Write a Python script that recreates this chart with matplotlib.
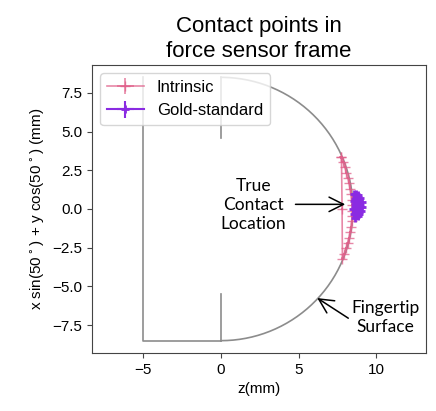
import numpy as np
import matplotlib
matplotlib.use("Agg")
import matplotlib.pyplot as plt

# fingertip outline (mm)
OUTLINE_Z = [-5.0, -5.0, 0.0]
OUTLINE_Y = [8.5, -8.5, -8.5]
TIP_RADIUS = 8.5
MARK_TOP_Y = [8.5, 4.6]
MARK_BOT_Y = [-5.5, -8.5]

# intrinsic contact estimates
INTR_Z = [7.75, 7.86, 7.98, 8.07, 8.17, 8.25, 8.31, 8.37, 8.41, 8.44, 8.45, 8.44,
          8.41, 8.37, 8.31, 8.24, 8.15, 8.05, 7.93, 7.82, 7.80, 7.76]
INTR_Y = [3.35, 3.05, 2.70, 2.35, 2.00, 1.65, 1.30, 0.95, 0.60, 0.25, -0.10, -0.45,
          -0.80, -1.15, -1.50, -1.85, -2.20, -2.55, -2.90, -3.20, 0.00, 3.35]
INTR_XERR = [0.12, 0.10, 0.08, 0.07, 0.06, 0.05, 0.05, 0.04, 0.04, 0.04, 0.04, 0.04,
             0.04, 0.05, 0.05, 0.06, 0.07, 0.08, 0.10, 0.12, 0.05, 0.12]
INTR_YERR = [0.10, 0.08, 0.08, 0.06, 0.06, 0.06, 0.05, 0.05, 0.05, 0.05, 0.05, 0.05,
             0.05, 0.05, 0.06, 0.06, 0.06, 0.08, 0.08, 0.10, 0.05, 0.10]

# gold-standard contact locations
GOLD_Z = [8.55, 8.70, 8.85, 8.98, 9.05, 9.08, 9.02, 8.92, 8.80, 8.65, 8.55, 8.50,
          8.60, 8.75, 8.90, 8.95, 8.80, 8.65, 8.70, 8.85, 8.60, 8.75, 8.95, 8.85,
          8.70, 8.58, 8.68, 8.82, 8.92, 8.78]
GOLD_Y = [0.95, 1.00, 0.90, 0.70, 0.45, 0.15, -0.10, -0.30, -0.45, -0.55, -0.35, 0.00,
          0.35, 0.60, 0.40, 0.10, -0.15, 0.15, 0.75, 0.55, 0.65, 0.30, 0.25, -0.05,
          -0.20, 0.50, -0.40, 0.80, -0.20, 0.05]
GOLD_ERR = [0.08] * len(GOLD_Z)

plt.rcParams['font.family'] = ['Liberation Sans', 'DejaVu Sans']

fig = plt.figure(figsize=(4.36, 4.11), dpi=100)
ax = fig.add_axes([0.211, 0.141, 0.766, 0.701])

gray = "#8c8c8c"
ax.plot(OUTLINE_Z, OUTLINE_Y, color=gray, lw=1.2)
th = np.linspace(-np.pi / 2, np.pi / 2, 200)
ax.plot(TIP_RADIUS * np.cos(th), TIP_RADIUS * np.sin(th), color=gray, lw=1.2)
ax.plot([0, 0], MARK_TOP_Y, color=gray, lw=1.2)
ax.plot([0, 0], MARK_BOT_Y, color=gray, lw=1.2)

ax.errorbar(INTR_Z, INTR_Y, xerr=INTR_XERR, yerr=INTR_YERR, fmt='-+',
            color="#e0608a", alpha=0.75, lw=1.2, ms=7, label="Intrinsic")
ax.errorbar(GOLD_Z, GOLD_Y, xerr=GOLD_ERR, yerr=GOLD_ERR, fmt='-+',
            color="#8a2be2", lw=1.5, ms=6, mew=2, label="Gold-standard")

txt_font = dict(fontsize=12.5, family='Lato', ha='center', va='center',
                linespacing=1.25)
arrow = dict(arrowstyle='->', color='black', lw=1.1, mutation_scale=26,
             shrinkA=0, shrinkB=0)
ax.text(2.1, 0.25, "True\nContact\nLocation", **txt_font)
ax.annotate("", xy=(8.0, 0.3), xytext=(4.8, 0.3), arrowprops=arrow)
ax.text(10.6, -7.0, "Fingertip\nSurface", **txt_font)
ax.annotate("", xy=(6.2, -5.75), xytext=(8.2, -7.05), arrowprops=arrow)

ax.set_xlim(-8.3, 13.2)
ax.set_ylim(-9.3, 9.3)
ax.set_xticks([-5, 0, 5, 10])
ax.set_yticks([-7.5, -5.0, -2.5, 0.0, 2.5, 5.0, 7.5])
ax.tick_params(labelsize=11, color="#444444")
for s in ax.spines.values():
    s.set_color("#444444")
ax.set_xlabel("z(mm)", fontsize=11)
ax.set_ylabel(r"x sin(50$^\circ$) + y cos(50$^\circ$) (mm)", fontsize=11)
ax.set_title("Contact points in\nforce sensor frame", fontsize=16, pad=6)
ax.legend(loc='upper left', fontsize=12, handlelength=2.2,
          borderaxespad=0.5)

fig.savefig("out.png", dpi=100)
